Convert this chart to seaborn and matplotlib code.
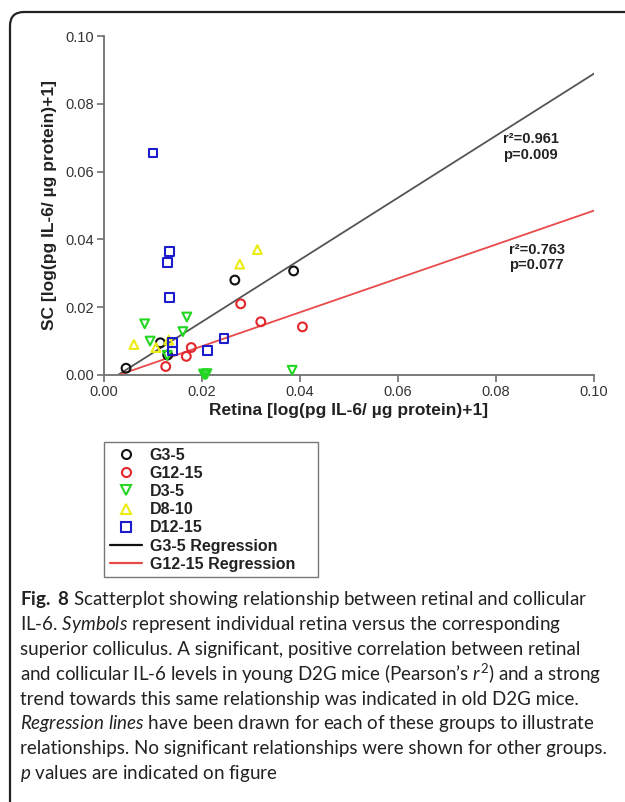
import numpy as np
import matplotlib
matplotlib.use("Agg")
import matplotlib.pyplot as plt
import seaborn as sns
from matplotlib.lines import Line2D
from matplotlib.patches import FancyBboxPatch
from matplotlib.transforms import IdentityTransform

# ── data ─────────────────────────────────────────────────────
g35_x = [0.0045, 0.0115, 0.0130, 0.0267, 0.0387]
g35_y = [0.0020, 0.0095, 0.0059, 0.0280, 0.0307]

g1215_x = [0.0126, 0.0168, 0.0178, 0.0279, 0.0320, 0.0405]
g1215_y = [0.0025, 0.0055, 0.0081, 0.0210, 0.0157, 0.0142]

d35_x = [0.0083, 0.0094, 0.0129, 0.0161, 0.0169, 0.0203, 0.0207, 0.0210, 0.0384]
d35_y = [0.0151, 0.0100, 0.0058, 0.0128, 0.0171, 0.0003, 0.0001, 0.0004, 0.0014]

d810_x = [0.0061, 0.0106, 0.0132, 0.0277, 0.0313]
d810_y = [0.0090, 0.0081, 0.0103, 0.0327, 0.0370]

d1215_x = [0.0100, 0.0134, 0.0129, 0.0134, 0.0139, 0.0140, 0.0211, 0.0245]
d1215_y = [0.0655, 0.0364, 0.0332, 0.0228, 0.0096, 0.0071, 0.0073, 0.0107]

groups = ["G3-5", "G12-15", "D3-5", "D8-10", "D12-15"]
reg_x = [0.003, 0.100]
reg_slope = {"G3-5": 0.915, "G12-15": 0.500}
reg_icept = {"G3-5": -0.0026, "G12-15": -0.0015}
reg_stats = {"G3-5": ("0.961", "0.009"), "G12-15": ("0.763", "0.077")}

caption = [
    r"$\mathbf{Fig.}$ $\mathbf{8}$ Scatterplot showing relationship between retinal and collicular",
    r"IL-6. $\mathit{Symbols}$ represent individual retina versus the corresponding",
    "superior colliculus. A significant, positive correlation between retinal",
    r"and collicular IL-6 levels in young D2G mice (Pearson’s $\mathit{r}^2$) and a strong",
    "trend towards this same relationship was indicated in old D2G mice.",
    r"$\mathit{Regression}$ $\mathit{lines}$ have been drawn for each of these groups to illustrate",
    "relationships. No significant relationships were shown for other groups.",
    r"$\mathit{p}$ values are indicated on figure",
]

# ── style ────────────────────────────────────────────────────
sns.set_style("ticks")
plt.rcParams["font.family"] = ["Liberation Sans", "DejaVu Sans"]
plt.rcParams["mathtext.fontset"] = "custom"
plt.rcParams["mathtext.rm"] = "Lato"
plt.rcParams["mathtext.it"] = "Lato:italic"
plt.rcParams["mathtext.bf"] = "Lato:bold"

colors = {"G3-5": "#111111", "G12-15": "#e3262c", "D3-5": "#22d622",
          "D8-10": "#ecec10", "D12-15": "#1c1ccc"}
markers = {"G3-5": "o", "G12-15": "o", "D3-5": "v", "D8-10": "^", "D12-15": "s"}
line_colors = {"G3-5": "#555555", "G12-15": "#e84a4a"}
xs = {"G3-5": g35_x, "G12-15": g1215_x, "D3-5": d35_x, "D8-10": d810_x, "D12-15": d1215_x}
ys = {"G3-5": g35_y, "G12-15": g1215_y, "D3-5": d35_y, "D8-10": d810_y, "D12-15": d1215_y}

fig = plt.figure(figsize=(6.25, 8.02), dpi=100)
ax = fig.add_axes([104/625, 1 - 375/802, 490/625, 339/802])

# ── regression lines ─────────────────────────────────────────
for g in ["G3-5", "G12-15"]:
    ry = [reg_slope[g] * x + reg_icept[g] for x in reg_x]
    sns.lineplot(x=reg_x, y=ry, color=line_colors[g], lw=1.3, ax=ax)

# ── points ───────────────────────────────────────────────────
for g in groups:
    sns.scatterplot(x=xs[g], y=ys[g], marker=markers[g], s=40,
                    facecolor="none", edgecolor=colors[g], linewidth=1.5,
                    ax=ax, clip_on=False, zorder=3)

ax.set_xlim(0, 0.1)
ax.set_ylim(0, 0.1)
ax.set_xticks(np.arange(0, 0.101, 0.02))
ax.set_yticks(np.arange(0, 0.101, 0.02))
ax.xaxis.set_major_formatter(matplotlib.ticker.FormatStrFormatter("%.2f"))
ax.yaxis.set_major_formatter(matplotlib.ticker.FormatStrFormatter("%.2f"))
sns.despine(ax=ax)
for side in ["left", "bottom"]:
    ax.spines[side].set_color("#707070")
    ax.spines[side].set_linewidth(1.3)
ax.tick_params(colors="#707070", labelcolor="#333333", labelsize=10.5,
               length=5, width=1.2, pad=2)
ax.set_xlabel("Retina [log(pg IL-6/ µg protein)+1]", fontsize=12.5,
              fontweight="bold", color="#222222", labelpad=3)
ax.set_ylabel("SC [log(pg IL-6/ µg protein)+1]", fontsize=12.5,
              fontweight="bold", color="#222222", labelpad=6)

# r² / p annotations
ax.text(0.0814, 0.0673, "r²=%s\np=%s" % reg_stats["G3-5"], fontsize=10.5,
        fontweight="bold", color="#222222", va="center", ha="left", linespacing=1.15)
ax.text(0.0827, 0.0347, "r²=%s\np=%s" % reg_stats["G12-15"], fontsize=10.5,
        fontweight="bold", color="#222222", va="center", ha="left", linespacing=1.15)

# ── legend ───────────────────────────────────────────────────
handles = [Line2D([], [], ls="none", marker=markers[g], ms=6.5, mfc="none",
                  mec=colors[g], mew=1.5) for g in groups]
handles += [Line2D([], [], color="#111111", lw=1.6),
            Line2D([], [], color="#e84a4a", lw=1.6)]
labels = groups + ["G3-5 Regression", "G12-15 Regression"]
leg_top = 1 - 442/802
leg = fig.legend(handles, labels, loc="upper left",
                 bbox_to_anchor=(104/625, leg_top - 0.1, 214/625, 0.1),
                 mode="expand", borderaxespad=0, frameon=True, fancybox=False,
                 prop={"family": "Liberation Sans", "weight": "bold", "size": 11.5},
                 labelspacing=0.2, handlelength=2.0, handletextpad=0.5,
                 borderpad=0.35, labelcolor="#222222")
leg.get_frame().set_edgecolor("#555555")
leg.get_frame().set_linewidth(1.0)

# ── caption ──────────────────────────────────────────────────
for i, line in enumerate(caption):
    fig.text(19.5/625, 1 - (600 + i*24.8)/802, line, family="Lato",
             fontsize=13.5, color="#222222", va="center", ha="left")

# ── outer rounded frame ──────────────────────────────────────
frame = FancyBboxPatch((10, -30), 660, 820, boxstyle="round,pad=0,rounding_size=14",
                       transform=IdentityTransform(), fill=False,
                       edgecolor="#222222", lw=1.6)
fig.add_artist(frame)

plt.savefig("out.png", dpi=100)
plt.close()
